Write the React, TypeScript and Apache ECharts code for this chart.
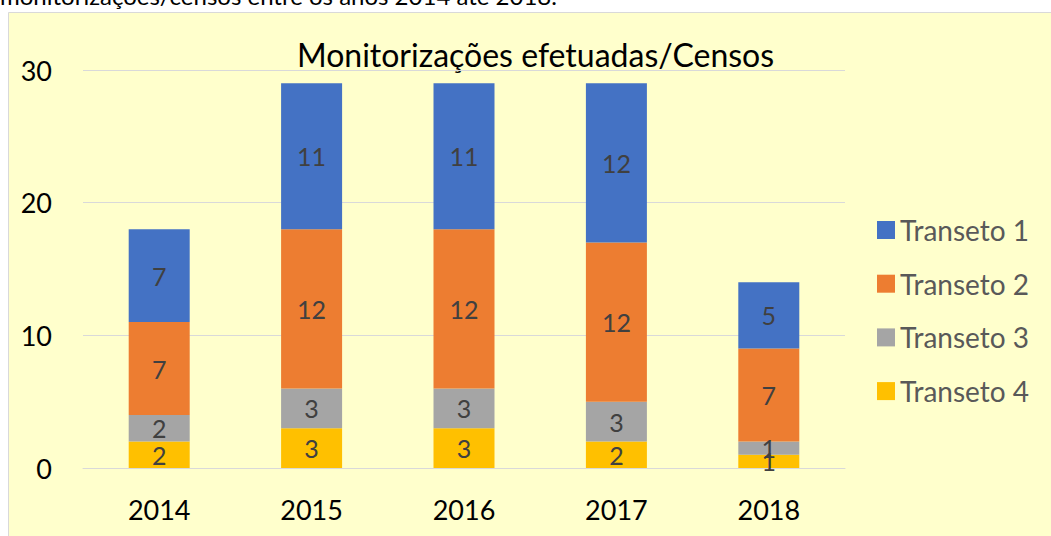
import React, { useEffect, useRef } from "react";
import * as echarts from "echarts";

const years = ["2014", "2015", "2016", "2017", "2018"];
const transeto1 = [7, 11, 11, 12, 5];
const transeto2 = [7, 12, 12, 12, 7];
const transeto3 = [2, 3, 3, 3, 1];
const transeto4 = [2, 3, 3, 2, 1];
const seriesNames = ["Transeto 1", "Transeto 2", "Transeto 3", "Transeto 4"];
const seriesColors = ["#4472C4", "#ED7D31", "#A5A5A5", "#FFC000"];
const chartTitle = "Monitorizações efetuadas/Censos";
const captionText = "monitorizações/censos entre os anos 2014 até 2018.";

const FONT = "Lato";

export default function App() {
  const ref = useRef<HTMLDivElement>(null);
  useEffect(() => {
    if (!ref.current) return;
    const chart = echarts.init(ref.current, undefined, { renderer: "svg" });
    const values = [transeto1, transeto2, transeto3, transeto4];
    const label = {
      show: true,
      position: "inside",
      color: "#404040",
      fontSize: 25,
      fontFamily: FONT,
    };
    // stack from bottom: Transeto 4, 3, 2, 1
    const series = [3, 2, 1, 0].map((i) => ({
      name: seriesNames[i],
      type: "bar",
      stack: "total",
      barWidth: 61,
      data: values[i],
      itemStyle: { color: seriesColors[i] },
      label,
    }));
    chart.setOption({
      animation: false,
      backgroundColor: "#ffffff",
      textStyle: { fontFamily: FONT },
      graphic: [
        {
          type: "rect",
          z: -10,
          shape: { x: 8.5, y: 12.5, width: 1060, height: 540 },
          style: { fill: "#FFFFCC", stroke: "#D9D9D9", lineWidth: 1 },
        },
        {
          type: "text",
          x: 0,
          y: 7,
          style: {
            text: captionText,
            fontSize: 24,
            fontFamily: FONT,
            fill: "#000000",
            verticalAlign: "bottom",
          },
        },
        {
          type: "text",
          x: 535.5,
          y: 54,
          style: {
            text: chartTitle,
            fontSize: 32,
            fontFamily: FONT,
            fill: "#000000",
            align: "center",
            verticalAlign: "middle",
          },
        },
      ],
      grid: { left: 83, right: 206, top: 70, bottom: 68, containLabel: false },
      legend: {
        orient: "vertical",
        left: 872,
        top: 211,
        data: seriesNames,
        itemWidth: 18,
        itemHeight: 18,
        itemGap: 25.7,
        itemTextGap: 9,
        icon: "rect",
        textStyle: { color: "#595959", fontSize: 28, lineHeight: 28, fontFamily: FONT },
      },
      xAxis: {
        type: "category",
        data: years,
        axisLine: { lineStyle: { color: "#D9D9D9", width: 1 } },
        axisTick: { show: false },
        axisLabel: { color: "#000000", fontSize: 27, margin: 28, fontFamily: FONT },
      },
      yAxis: {
        type: "value",
        min: 0,
        max: 30,
        interval: 10,
        axisLine: { show: false },
        axisTick: { show: false },
        splitLine: { lineStyle: { color: "#D9D9D9", width: 1 } },
        axisLabel: { color: "#000000", fontSize: 27, margin: 31, fontFamily: FONT },
      },
      series,
    });
    return () => chart.dispose();
  }, []);
  return (
    <div
      ref={ref}
      style={{ position: "fixed", left: 0, top: 0, width: 1051, height: 536 }}
    />
  );
}
